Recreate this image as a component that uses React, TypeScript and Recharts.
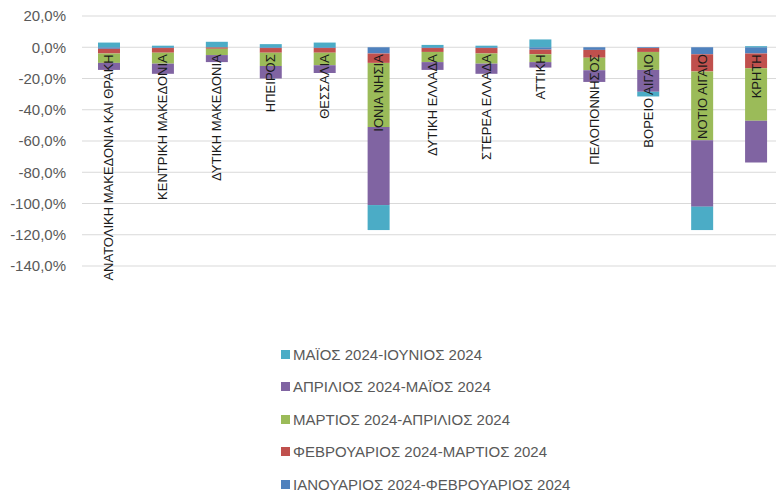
import { BarChart, Bar, XAxis, YAxis, CartesianGrid, Legend } from 'recharts';

const regions = [
  'ΑΝΑΤΟΛΙΚΗ ΜΑΚΕΔΟΝΙΑ ΚΑΙ ΘΡΑΚΗ',
  'ΚΕΝΤΡΙΚΗ ΜΑΚΕΔΟΝΙΑ',
  'ΔΥΤΙΚΗ ΜΑΚΕΔΟΝΙΑ',
  'ΗΠΕΙΡΟΣ',
  'ΘΕΣΣΑΛΙΑ',
  'ΙΟΝΙΑ ΝΗΣΙΑ',
  'ΔΥΤΙΚΗ ΕΛΛΑΔΑ',
  'ΣΤΕΡΕΑ ΕΛΛΑΔΑ',
  'ΑΤΤΙΚΗ',
  'ΠΕΛΟΠΟΝΝΗΣΟΣ',
  'ΒΟΡΕΙΟ ΑΙΓΑΙΟ',
  'ΝΟΤΙΟ ΑΙΓΑΙΟ',
  'ΚΡΗΤΗ',
];

// % change per period
const janFeb = [-1, -0.5, 0, -0.5, -0.5, -4, -0.5, -0.5, -1.5, -1.7, -0.5, -4.5, -4];
const febMar = [-3, -3, -1, -3, -3, -6, -2.5, -3.5, -3, -5, -2.5, -11, -9.5];
const marApr = [-6, -7, -4, -8.5, -8, -41, -6.5, -6.5, -5, -8, -11.5, -44, -33.5];
const aprMay = [-4.5, -6.5, -4.5, -8, -5, -50, -5, -6.5, -3.5, -7.5, -14, -42.5, -26.7];
const mayJun = [3, 1, 3.5, 2, 3, -16, 1.5, 1, 5, 0, -3, -15, 0.7];

const yTicks = [20, 0, -20, -40, -60, -80, -100, -120, -140];

const series = [
  { key: 'janFeb', name: 'ΙΑΝΟΥΑΡΙΟΣ 2024-ΦΕΒΡΟΥΑΡΙΟΣ 2024', color: '#4F81BD' },
  { key: 'febMar', name: 'ΦΕΒΡΟΥΑΡΙΟΣ 2024-ΜΑΡΤΙΟΣ 2024', color: '#C0504D' },
  { key: 'marApr', name: 'ΜΑΡΤΙΟΣ 2024-ΑΠΡΙΛΙΟΣ 2024', color: '#9BBB59' },
  { key: 'aprMay', name: 'ΑΠΡΙΛΙΟΣ 2024-ΜΑΪΟΣ 2024', color: '#8064A2' },
  { key: 'mayJun', name: 'ΜΑΪΟΣ 2024-ΙΟΥΝΙΟΣ 2024', color: '#4BACC6' },
];

const data = regions.map((region, i) => ({
  region,
  janFeb: janFeb[i],
  febMar: febMar[i],
  marApr: marApr[i],
  aprMay: aprMay[i],
  mayJun: mayJun[i],
}));

const W = 783;
const H = 493;
const TOP = 16;
const PLOT_H = 250;
const X_AXIS_H = 10;
const Y_MAX = 20;
const Y_MIN = -140;
// excel puts the category labels at the zero line, not under the plot
const zeroY = TOP + (PLOT_H * Y_MAX) / (Y_MAX - Y_MIN);

const fmt = (v: number) => `${v.toFixed(1).replace('.', ',')}%`;

function CategoryTick({ x, payload }: { x?: number; payload?: { value: string } }) {
  const y = zeroY + 7;
  return (
    <text
      x={x}
      y={y}
      transform={`rotate(-90, ${x}, ${y})`}
      textAnchor="end"
      dominantBaseline="central"
      fontSize={13}
      fill="#1a1a1a"
    >
      {payload?.value}
    </text>
  );
}

// legend in excel order: last series on top
function LegendList() {
  const items = [...series].reverse();
  return (
    <div>
      {items.map((s) => (
        <div key={s.key} style={{ height: 32.5, display: 'flex', alignItems: 'center' }}>
          <span style={{ width: 9, height: 9, background: s.color, marginRight: 3, display: 'inline-block' }} />
          <span style={{ fontSize: 15, color: '#595959', whiteSpace: 'nowrap' }}>{s.name}</span>
        </div>
      ))}
    </div>
  );
}

export default function App() {
  return (
    <div
      style={{
        position: 'absolute',
        left: 0,
        top: 0,
        width: 776,
        height: 493,
        overflow: 'hidden',
        background: '#fff',
        fontFamily: '"Liberation Sans", Arial, sans-serif',
      }}
    >
      <BarChart
        width={W}
        height={H}
        data={data}
        stackOffset="sign"
        barSize={22}
        margin={{ top: TOP, right: 0, bottom: H - TOP - PLOT_H - X_AXIS_H, left: 0 }}
      >
        <CartesianGrid vertical={false} stroke="#d9d9d9" />
        <XAxis
          dataKey="region"
          height={X_AXIS_H}
          axisLine={false}
          tickLine={false}
          interval={0}
          tick={<CategoryTick />}
        />
        <YAxis
          domain={[Y_MIN, Y_MAX]}
          ticks={yTicks}
          tickFormatter={fmt}
          width={82}
          axisLine={false}
          tickLine={false}
          tickSize={6}
          tickMargin={10}
          tick={{ fill: '#595959', fontSize: 15 }}
        />
        <Legend
          layout="vertical"
          align="center"
          verticalAlign="middle"
          content={<LegendList />}
          wrapperStyle={{ left: 281, top: 338, width: 420 }}
        />
        {series.map((s) => (
          <Bar key={s.key} dataKey={s.key} name={s.name} stackId="a" fill={s.color} isAnimationActive={false} />
        ))}
      </BarChart>
    </div>
  );
}
